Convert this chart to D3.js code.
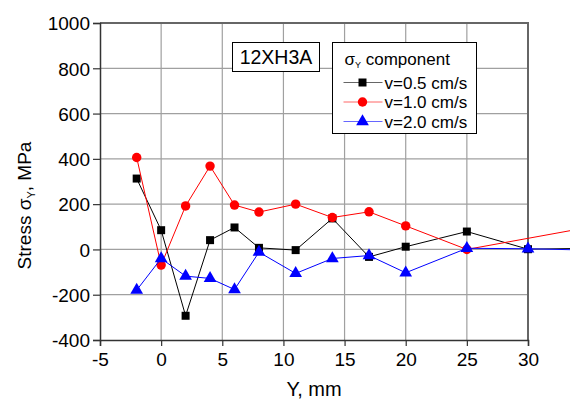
<!DOCTYPE html>
<html lang="en">
<head>
    <meta charset="utf-8">
    <title>Stress sigma Y</title>
    <script src="https://cdn.jsdelivr.net/npm/d3@7"></script>
    <style>
        body { margin: 0; background: #fff; }
        text { font-family: "Liberation Sans", Arial, sans-serif; fill: #000; }
    </style>
</head>
<body>
<div id="chart"></div>

<script>
    // data (the last point of each series lies past the frame)
    const xBlack = [-2, 0, 2, 4, 6, 8, 11, 14, 17, 20, 25, 30, 35];
    const yBlack = [313, 85, -293, 41, 97, 7, -3, 137, -33, 12, 79, 1, 5];
    const xRed = [-2, 0, 2, 4, 6, 8, 11, 14, 17, 20, 25, 35];
    const yRed = [406, -69, 192, 368, 196, 165, 200, 141, 166, 104, 0, 98];
    const xBlue = [-2, 0, 2, 4, 6, 8, 11, 14, 17, 20, 25, 30, 35];
    const yBlue = [-180, -40, -118, -128, -177, -12, -106, -40, -27, -103, 5, 3, -3];

    const seriesNames = ["v=0.5 cm/s", "v=1.0 cm/s", "v=2.0 cm/s"];
    const xTicks = [-5, 0, 5, 10, 15, 20, 25, 30];
    const yTicks = [-400, -200, 0, 200, 400, 600, 800, 1000];

    const series = [
        {name: seriesNames[0], xs: xBlack, ys: yBlack, color: "#000000", shape: d3.symbolSquare, size: 64},
        {name: seriesNames[1], xs: xRed, ys: yRed, color: "#ff0000", shape: d3.symbolCircle, size: 70},
        {name: seriesNames[2], xs: xBlue, ys: yBlue, color: "#0000ff", shape: d3.symbolTriangle, size: 70}
    ];

    // plot dimensions and margins
    const margin = {top: 23, left: 100};
    const width = 428;
    const height = 317;

    const svg = d3.select("#chart")
        .append("svg")
            .attr("width", 570)
            .attr("height", 401);

    const g = svg.append("g")
        .attr("transform", "translate(" + margin.left + "," + margin.top + ")");

    const x = d3.scaleLinear().domain([-5, 30]).range([0, width]);
    const y = d3.scaleLinear().domain([-400, 1000]).range([height, 0]);

    // grid
    g.append("g")
        .selectAll("line")
        .data(xTicks.slice(1, -1))
        .enter()
        .append("line")
            .attr("x1", d => x(d)).attr("x2", d => x(d))
            .attr("y1", 0).attr("y2", height)
            .attr("stroke", "#a0a0a0")
            .attr("stroke-width", 1.2);

    g.append("g")
        .selectAll("line")
        .data(yTicks.slice(1, -1))
        .enter()
        .append("line")
            .attr("x1", 0).attr("x2", width)
            .attr("y1", d => y(d)).attr("y2", d => y(d))
            .attr("stroke", "#a0a0a0")
            .attr("stroke-width", 1.2);

    // frame (top and right)
    g.append("path")
        .attr("d", "M0,0H" + width + "V" + height)
        .attr("fill", "none")
        .attr("stroke", "#666")
        .attr("stroke-width", 2);

    // axes
    const xMinor = d3.range(-5, 30.1, 2.5);
    const yMinor = d3.range(-400, 1000.1, 100);
    const plain = d => String(d);

    const xAxis = g.append("g")
        .attr("transform", "translate(0," + height + ")");
    xAxis.call(d3.axisBottom(x).tickValues(xMinor).tickSize(4).tickFormat(""));
    xAxis.call(d3.axisBottom(x).tickValues(xTicks).tickSize(6).tickPadding(5).tickFormat(plain));

    const yAxis = g.append("g");
    yAxis.call(d3.axisLeft(y).tickValues(yMinor).tickSize(4).tickFormat(""));
    yAxis.call(d3.axisLeft(y).tickValues(yTicks).tickSize(7).tickPadding(3).tickFormat(plain));

    svg.selectAll(".domain").attr("stroke", "#333").attr("stroke-width", 1.5);
    svg.selectAll(".tick line").attr("stroke", "#333").attr("stroke-width", 1.2);
    svg.selectAll(".tick text")
        .style("font-size", "19px")
        .style("font-family", "'Liberation Sans', Arial, sans-serif")
        .attr("fill", "#000");
    yAxis.selectAll(".tick text").attr("dy", "0.36em");
    xAxis.selectAll(".tick text").attr("dy", "0.8em");

    // data lines and markers
    const line = d3.line().x(d => x(d[0])).y(d => y(d[1]));

    series.forEach(function(s) {
        const pts = s.xs.map((v, i) => [v, s.ys[i]]);
        g.append("path")
            .datum(pts)
            .attr("d", line)
            .attr("fill", "none")
            .attr("stroke", s.color)
            .attr("stroke-width", 1);
        g.append("g")
            .selectAll("path")
            .data(pts)
            .enter()
            .append("path")
                .attr("transform", d => "translate(" + x(d[0]) + "," + y(d[1]) + ")")
                .attr("d", d3.symbol().type(s.shape).size(s.size))
                .attr("fill", s.color);
    });

    // axis titles
    svg.append("text")
        .attr("x", margin.left + width / 2)
        .attr("y", 396)
        .attr("text-anchor", "middle")
        .style("font-size", "20px")
        .text("Y, mm");

    const yTitle = svg.append("text")
        .attr("transform", "translate(31," + (margin.top + height / 2 + 24) + ")rotate(-90)")
        .attr("text-anchor", "middle")
        .style("font-size", "19px");
    yTitle.append("tspan").text("Stress \u03c3");
    yTitle.append("tspan").attr("dy", 4).style("font-size", "11px").text("Y");
    yTitle.append("tspan").attr("dy", -4).text(", MPa");

    // material label
    svg.append("rect")
        .attr("x", 232.5).attr("y", 42.5)
        .attr("width", 87).attr("height", 29)
        .attr("fill", "#fff").attr("stroke", "#000").attr("stroke-width", 1);
    svg.append("text")
        .attr("x", 276).attr("y", 64)
        .attr("text-anchor", "middle")
        .style("font-size", "19.5px")
        .text("12XH3A");

    // legend
    const legend = svg.append("g").attr("transform", "translate(332.5, 42.5)");
    legend.append("rect")
        .attr("width", 144).attr("height", 91)
        .attr("fill", "#fff").attr("stroke", "#000").attr("stroke-width", 1);

    const legendTitle = legend.append("text")
        .attr("x", 12).attr("y", 22)
        .style("font-size", "17px");
    legendTitle.append("tspan").text("\u03c3");
    legendTitle.append("tspan").attr("dy", 3).style("font-size", "9px").text("Y");
    legendTitle.append("tspan").attr("dy", -3).text(" component");

    const legendItems = legend.selectAll(".legend-item")
        .data(series)
        .enter()
        .append("g")
        .attr("class", "legend-item")
        .attr("transform", (d, i) => "translate(0," + (40 + i * 19.5) + ")");

    legendItems.append("line")
        .attr("x1", 11).attr("x2", 50)
        .attr("stroke", d => d.color)
        .attr("stroke-opacity", 0.6)
        .attr("stroke-width", 1);

    legendItems.append("path")
        .attr("transform", "translate(30,0)")
        .attr("d", d => d3.symbol().type(d.shape).size(d.size)())
        .attr("fill", d => d.color);

    legendItems.append("text")
        .attr("x", 52)
        .attr("dy", "0.36em")
        .style("font-size", "17px")
        .text(d => d.name);
</script>
</body>
</html>
